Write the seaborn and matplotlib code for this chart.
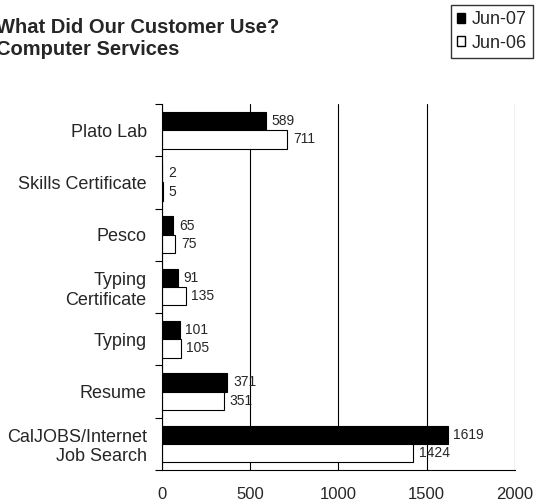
import pandas as pd
import matplotlib.pyplot as plt
import seaborn as sns
from matplotlib.patches import Patch

# data
services = ["Plato Lab", "Skills Certificate", "Pesco", "Typing\nCertificate",
            "Typing", "Resume", "CalJOBS/Internet\nJob Search"]
jun07 = [589, 2, 65, 91, 101, 371, 1619]
jun06 = [711, 5, 75, 135, 105, 351, 1424]
periods = ["Jun-07", "Jun-06"]

df = pd.DataFrame({
    "service": services * 2,
    "count": jun07 + jun06,
    "period": [periods[0]] * len(services) + [periods[1]] * len(services),
})

sns.set_style("white")
plt.rcParams["font.family"] = ["Liberation Sans", "DejaVu Sans"]

fig = plt.figure(figsize=(5.37, 5.04), dpi=100)
ax = fig.add_axes([0.3017, 0.0675, 0.657, 0.726])

sns.barplot(data=df, y="service", x="count", hue="period", orient="h",
            palette={"Jun-07": "black", "Jun-06": "white"},
            edgecolor="black", linewidth=0.8, width=0.7, ax=ax, legend=False)

for cont in ax.containers:
    ax.bar_label(cont, padding=4, fontsize=10)

ax.set_xlim(0, 2000)
ax.set_xticks([0, 500, 1000, 1500, 2000])
ax.set_xticklabels(["0", "500", "1000", "1500", "2000"], fontsize=12)
ax.set_xlabel("")
ax.set_ylabel("")
ax.tick_params(axis="y", labelsize=13, length=0, pad=11)
ax.tick_params(axis="x", length=5, width=0.8, direction="inout", pad=10)
ax.grid(axis="x", color="black", linewidth=0.8)
ax.set_axisbelow(True)

# category boundary ticks on the y axis
ax.set_ylim(len(services) - 0.5, -0.5)
ax.set_yticks([i - 0.5 for i in range(len(services) + 1)], minor=True)
ax.tick_params(axis="y", which="minor", length=5, width=0.8, direction="out",
               color="black", left=True)

for s in ["top", "right"]:
    ax.spines[s].set_visible(False)
for s in ["left", "bottom"]:
    ax.spines[s].set_color("black")
    ax.spines[s].set_linewidth(0.8)

fig.text(-0.008, 0.964, "What Did Our Customer Use?\nComputer Services",
         fontsize=14.5, fontweight="bold", va="top", ha="left", linespacing=1.2)

handles = [Patch(facecolor="black", edgecolor="black", label="Jun-07"),
           Patch(facecolor="white", edgecolor="black", label="Jun-06")]
fig.legend(handles=handles, loc="upper right", bbox_to_anchor=(0.993, 0.990),
           fontsize=13, frameon=True, fancybox=False, edgecolor="black",
           handlelength=0.45, handleheight=0.45, handletextpad=0.35,
           borderpad=0.35, labelspacing=0.35, borderaxespad=0)

fig.savefig("out.png", dpi=100)
